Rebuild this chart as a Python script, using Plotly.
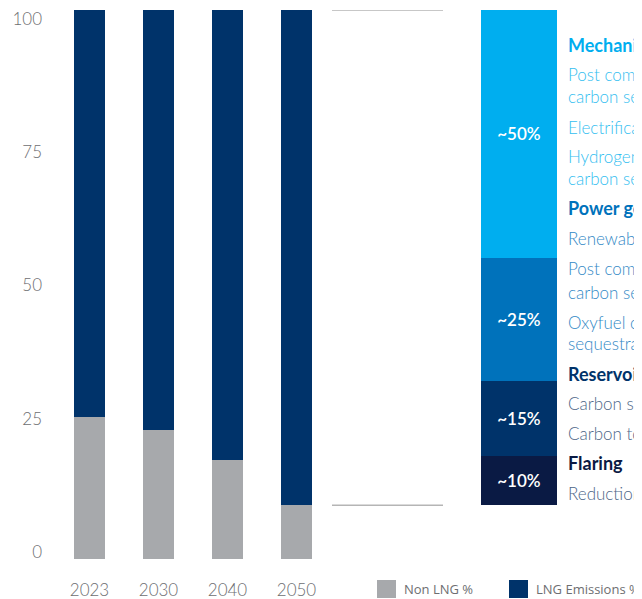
import plotly.graph_objects as go

# main chart data
years = ["2023", "2030", "2040", "2050"]
non_lng = [25.9, 23.5, 18.0, 9.8]
lng = [100 - v for v in non_lng]
series_names = ["Non LNG %", "LNG Emissions %"]

# breakdown of 2050 LNG emissions (bottom to top)
seg_names = ["Flaring", "Reservoir", "Power generation", "Mechanical drive"]
seg_share = [10, 15, 25, 50]
seg_labels = ["~10%", "~15%", "~25%", "~50%"]
seg_colors = ["#0A1A44", "#00336A", "#0072BB", "#00AEEF"]

y_tick_text = ["0", "25", "50", "75", "100"]

# right hand text: (text, bold, colour)
side_text = [
    ("Mechanical drive", True, "#00AEEF"),
    ("Post combustion with", False, "#33BEF0"),
    ("carbon sequestration", False, "#33BEF0"),
    ("Electrification", False, "#33BEF0"),
    ("Hydrogen with", False, "#33BEF0"),
    ("carbon sequestration", False, "#33BEF0"),
    ("Power generation", True, "#0072BB"),
    ("Renewables", False, "#3389C6"),
    ("Post combustion with", False, "#3389C6"),
    ("carbon sequestration", False, "#3389C6"),
    ("Oxyfuel combustion with carbon", False, "#3389C6"),
    ("sequestration", False, "#3389C6"),
    ("Reservoir CO2", True, "#00336A"),
    ("Carbon sequestration", False, "#4D6688"),
    ("Carbon to value", False, "#4D6688"),
    ("Flaring", True, "#0A1A44"),
    ("Reduction of flaring", False, "#4D6688"),
]
side_px = [45, 75, 97, 127, 157, 178, 208, 238, 268, 292, 322, 343, 374, 403, 433, 463, 493]

# page has an 8px body margin, so the figure is a bit smaller than the window
OFF = 8
W, H = 642 - OFF, 599 - OFF
ML, MT, MB = 55 - OFF, 10 - OFF, 40
PW = W - ML
PH = H - MT - MB


def px_x(p):
    # page pixel -> paper x
    return (p - OFF - ML) / PW


def px_y(p):
    # page pixel -> paper y
    return (H - MB - (p - OFF)) / PH


FONT = "Lato"
GREY = "#6D6E71"
BAR_GREY = "#A7A9AC"
NAVY = "#00336A"

fig = go.Figure()

fig.add_trace(go.Bar(
    x=years, y=non_lng, name=series_names[0],
    marker=dict(color=BAR_GREY, line=dict(width=0)), width=0.45,
))
fig.add_trace(go.Bar(
    x=years, y=lng, name=series_names[1],
    marker=dict(color=NAVY, line=dict(width=0)), width=0.45,
))

# 2050 LNG portion split into its sources
base = non_lng[-1]
span = 100 - base
for name, share, lab, col in zip(seg_names, seg_share, seg_labels, seg_colors):
    fig.add_trace(go.Bar(
        x=[0.5], y=[share * span / 100], base=[base], width=1,
        xaxis="x2", yaxis="y", name=name,
        marker=dict(color=col, line=dict(width=0)),
        text=[lab], textposition="inside", insidetextanchor="middle",
        textfont=dict(family=FONT, size=17, color="white", weight=600),
        hoverinfo="skip",
    ))
    base += share * span / 100

# connector lines from the 2050 bar to the breakdown
for yv in [100, non_lng[-1]]:
    fig.add_shape(type="line", xref="paper", yref="y",
                  x0=px_x(332), x1=px_x(443), y0=yv, y1=yv,
                  line=dict(color="#B5B5B5", width=1.5))

for (txt, bold, col), p in zip(side_text, side_px):
    fig.add_annotation(
        text=txt, xref="paper", yref="paper", x=px_x(566), y=px_y(p),
        xanchor="left", yanchor="middle", showarrow=False,
        font=dict(family=FONT, size=18 if bold else 17, color=col,
                  weight=700 if bold else 300),
    )

# legend drawn by hand so the swatches can be as big as in the original
for name, col, sx in zip(series_names, [BAR_GREY, NAVY], [377, 509]):
    fig.add_shape(type="rect", xref="paper", yref="paper",
                  x0=px_x(sx), x1=px_x(sx + 19), y0=px_y(580), y1=px_y(598),
                  fillcolor=col, line=dict(width=0))
    fig.add_annotation(text=name, xref="paper", yref="paper",
                       x=px_x(sx + 25), y=px_y(589), xanchor="left",
                       yanchor="middle", showarrow=False,
                       font=dict(family="Open Sans", size=13, color=GREY))

fig.update_layout(
    width=W, height=H,
    margin=dict(l=ML, r=0, t=MT, b=MB, autoexpand=False),
    barmode="stack",
    showlegend=False,
    plot_bgcolor="white", paper_bgcolor="white",
    font=dict(family=FONT, color=GREY),
    xaxis=dict(domain=[0, px_x(331)], range=[-0.5, 3.5], showgrid=False,
               showline=False, zeroline=False, ticks="", automargin=False,
               ticklabelstandoff=19, ticklabeloverflow="allow",
               tickfont=dict(family=FONT, size=17, color=GREY, weight=300)),
    xaxis2=dict(domain=[px_x(481), px_x(557)], range=[0, 1], anchor="y",
                visible=False),
    yaxis=dict(range=[0, 100], showgrid=False, zeroline=False, showline=False,
               automargin=False, ticklabeloverflow="allow",
               tickvals=[1.3 + 0.971 * int(t) for t in y_tick_text],
               ticktext=y_tick_text, ticklabelstandoff=12,
               tickfont=dict(family=FONT, size=17, color=GREY, weight=300)),
)

fig.write_html("out.html")
